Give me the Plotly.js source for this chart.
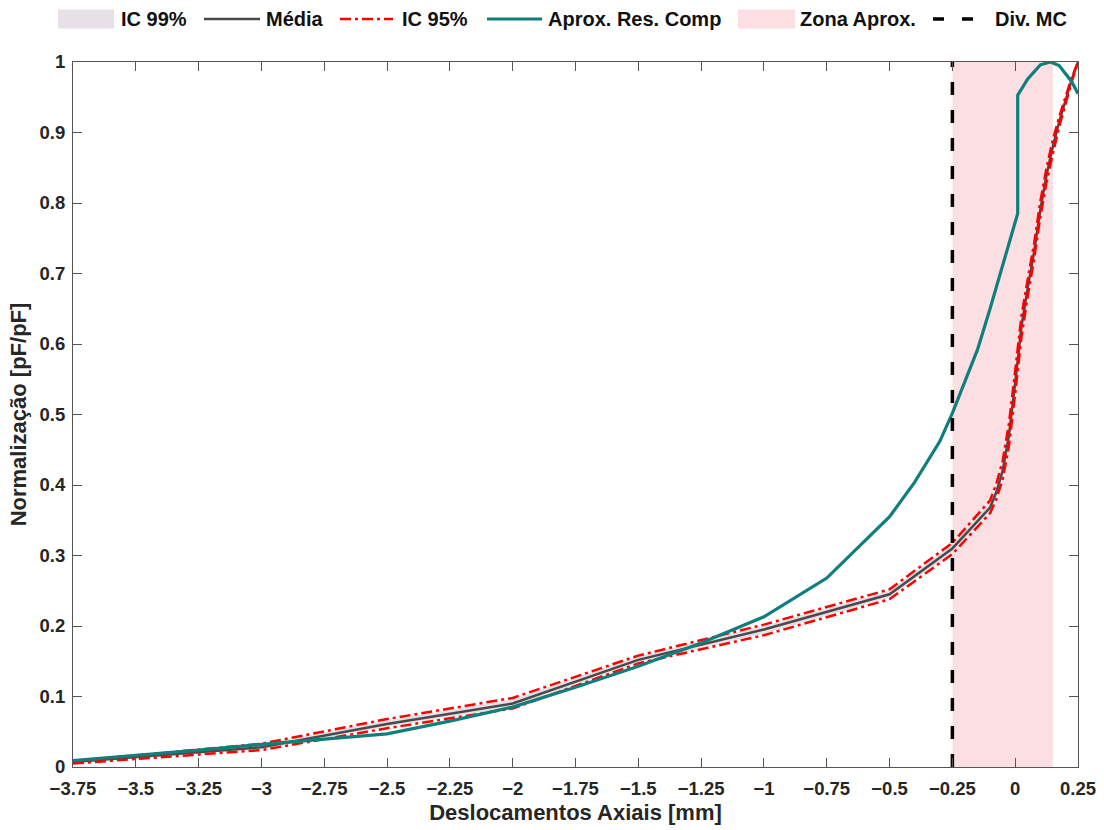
<!DOCTYPE html>
<html>
<head>
<meta charset="utf-8">
<script src="https://cdn.plot.ly/plotly-3.0.1.min.js"></script>
<style>html,body{margin:0;padding:0;background:#fff;}#chart{width:1104px;height:830px;}</style>
</head>
<body>
<div id="chart"></div>
<script>
// Média and confidence intervals
const xMean = [-3.75,-3,-2.5,-2,-1.5,-1,-0.5,-0.25,-0.1,-0.075,-0.05,-0.025,0,0.025,0.05,0.075,0.1,0.125,0.15,0.175,0.2,0.225,0.25];
const media = [0.007,0.028,0.061,0.090,0.152,0.195,0.245,0.310,0.368,0.390,0.420,0.470,0.545,0.625,0.680,0.730,0.790,0.840,0.880,0.915,0.945,0.975,1.0];
const ic95Up = [0.008,0.033,0.068,0.098,0.158,0.202,0.252,0.318,0.378,0.402,0.434,0.487,0.562,0.640,0.692,0.742,0.802,0.850,0.890,0.922,0.950,0.978,1.0];
const ic95Lo = [0.005,0.024,0.055,0.083,0.147,0.187,0.238,0.302,0.360,0.380,0.408,0.455,0.530,0.610,0.668,0.720,0.780,0.830,0.870,0.908,0.940,0.972,1.0];
const ic99Up = [0.009,0.032,0.066,0.096,0.157,0.200,0.250,0.316,0.376,0.399,0.430,0.482,0.558,0.636,0.689,0.739,0.799,0.848,0.888,0.921,0.949,0.977,1.0];
const ic99Lo = [0.006,0.025,0.057,0.085,0.148,0.189,0.240,0.304,0.362,0.382,0.411,0.459,0.534,0.614,0.671,0.722,0.782,0.832,0.872,0.909,0.941,0.973,1.0];
// Aprox. Res. Comp
const xAprox = [-3.75,-3.5,-3.25,-3,-2.75,-2.5,-2.25,-2,-1.75,-1.5,-1.25,-1,-0.75,-0.5,-0.4,-0.3,-0.25,-0.2,-0.15,-0.1,-0.05,0,0.01,0.01,0.05,0.1,0.14,0.175,0.2,0.225,0.25];
const aprox = [0.009,0.016,0.024,0.032,0.040,0.047,0.065,0.085,0.113,0.143,0.176,0.213,0.268,0.355,0.404,0.462,0.502,0.546,0.592,0.650,0.712,0.772,0.785,0.953,0.976,0.996,1.0,0.995,0.984,0.972,0.955];
// Zona Aprox. and Div. MC
const zonaX = [-0.25, 0.15];
const divMC = -0.25;
const yRange = [0, 1];
const xTicks = [-3.75,-3.5,-3.25,-3,-2.75,-2.5,-2.25,-2,-1.75,-1.5,-1.25,-1,-0.75,-0.5,-0.25,0,0.25];
const xTickText = ["\u22123.75","\u22123.5","\u22123.25","\u22123","\u22122.75","\u22122.5","\u22122.25","\u22122","\u22121.75","\u22121.5","\u22121.25","\u22121","\u22120.75","\u22120.5","\u22120.25","0","0.25"];
const yTicks = [0,0.1,0.2,0.3,0.4,0.5,0.6,0.7,0.8,0.9,1];
const yTickText = ["0","0.1","0.2","0.3","0.4","0.5","0.6","0.7","0.8","0.9","1"];
const legendLabels = ["IC 99%","Média","IC 95%","Aprox. Res. Comp","Zona Aprox.","Div. MC"];

// ---- styles ----
const FONT = "Liberation Sans, Arial, sans-serif";
const C = {ic99:'rgb(231,224,231)', media:'#4a4a4a', ic95:'#ff0000', aprox:'#0f7f7c', zona:'rgba(252,223,227,1)', div:'#000000'};
const DASHDOT = '11px,4px,3px,4px';
const DASHED = '13px,15px';
const W = 1104, H = 830, M = {l:73, r:26, t:62, b:63};
const PW = W - M.l - M.r, PH = H - M.t - M.b;
const px2x = p => (p - M.l) / PW;
const px2y = p => (H - M.b - p) / PH;

const traces = [
  {x:[zonaX[0],zonaX[1],zonaX[1],zonaX[0],zonaX[0]], y:[yRange[0],yRange[0],yRange[1],yRange[1],yRange[0]],
   type:'scatter', mode:'lines', fill:'toself', fillcolor:C.zona, line:{width:0}, hoverinfo:'skip'},
  {x:xMean, y:ic99Lo, type:'scatter', mode:'lines', line:{width:0}, hoverinfo:'skip'},
  {x:xMean, y:ic99Up, type:'scatter', mode:'lines', line:{width:0}, fill:'tonexty', fillcolor:C.ic99},
  {x:xMean, y:media, type:'scatter', mode:'lines', line:{color:C.media, width:2.5}},
  {x:xMean, y:ic95Up, type:'scatter', mode:'lines', line:{color:C.ic95, width:2.5, dash:DASHDOT}},
  {x:xMean, y:ic95Lo, type:'scatter', mode:'lines', line:{color:C.ic95, width:2.5, dash:DASHDOT}},
  {x:xAprox, y:aprox, type:'scatter', mode:'lines', line:{color:C.aprox, width:3.2}},
  {x:[divMC, divMC], y:yRange, type:'scatter', mode:'lines', line:{color:C.div, width:3.5, dash:DASHED}}
];

// ---- manual legend (swatch pixel spans, text start) ----
const legendSpec = [
  {kind:'box',  color:C.ic99,  x0:58,  x1:114, tx:120},
  {kind:'line', color:C.media, x0:204, x1:260, tx:265, width:2.5},
  {kind:'line', color:C.ic95,  x0:340, x1:393, tx:401, width:2.5, dash:DASHDOT},
  {kind:'line', color:C.aprox, x0:487, x1:542, tx:547, width:3.2},
  {kind:'box',  color:C.zona,  x0:738, x1:795, tx:799},
  {kind:'line', color:C.div,   x0:933, x1:977, tx:994, width:3.5, dash:'11px,18px'}
];
const legY = 19, boxH = 19;
const shapes = [], annotations = [];
legendSpec.forEach((s, i) => {
  if (s.kind === 'box') {
    shapes.push({type:'rect', xref:'paper', yref:'paper', x0:px2x(s.x0), x1:px2x(s.x1),
      y0:px2y(legY - boxH/2), y1:px2y(legY + boxH/2), fillcolor:s.color, line:{width:0}});
  } else {
    shapes.push({type:'line', xref:'paper', yref:'paper', x0:px2x(s.x0), x1:px2x(s.x1),
      y0:px2y(legY), y1:px2y(legY), line:{color:s.color, width:s.width, dash:s.dash || 'solid'}});
  }
  annotations.push({xref:'paper', yref:'paper', x:px2x(s.tx - 1), y:px2y(legY), xanchor:'left', yanchor:'middle',
    text:legendLabels[i], showarrow:false, font:{family:FONT, size:20, color:'#111', weight:'bold'}});
});

const axisCommon = {
  showgrid:false, zeroline:false, showline:true, linecolor:'#555', linewidth:1,
  mirror:'ticks', ticks:'inside', ticklen:9, tickcolor:'#555', tickwidth:1,
  tickfont:{family:FONT, size:18.5, color:'#262626', weight:'bold'}
};

const layout = {
  width:W, height:H,
  margin:M,
  paper_bgcolor:'#fff', plot_bgcolor:'#fff',
  showlegend:false,
  shapes:shapes, annotations:annotations,
  xaxis:Object.assign({}, axisCommon, {range:[-3.75,0.25], tickmode:'array', tickvals:xTicks, ticktext:xTickText,
    ticklabelstandoff:5,
    title:{text:'Deslocamentos Axiais [mm]', font:{family:FONT, size:22, color:'#262626', weight:'bold'}, standoff:6}}),
  yaxis:Object.assign({}, axisCommon, {range:[0,1], tickmode:'array', tickvals:yTicks, ticktext:yTickText,
    ticklabelstandoff:3,
    title:{text:'Normalização [pF/pF]', font:{family:FONT, size:22, color:'#262626', weight:'bold'}, standoff:6}})
};

Plotly.newPlot('chart', traces, layout, {displayModeBar:false, staticPlot:true});
</script>
</body>
</html>
